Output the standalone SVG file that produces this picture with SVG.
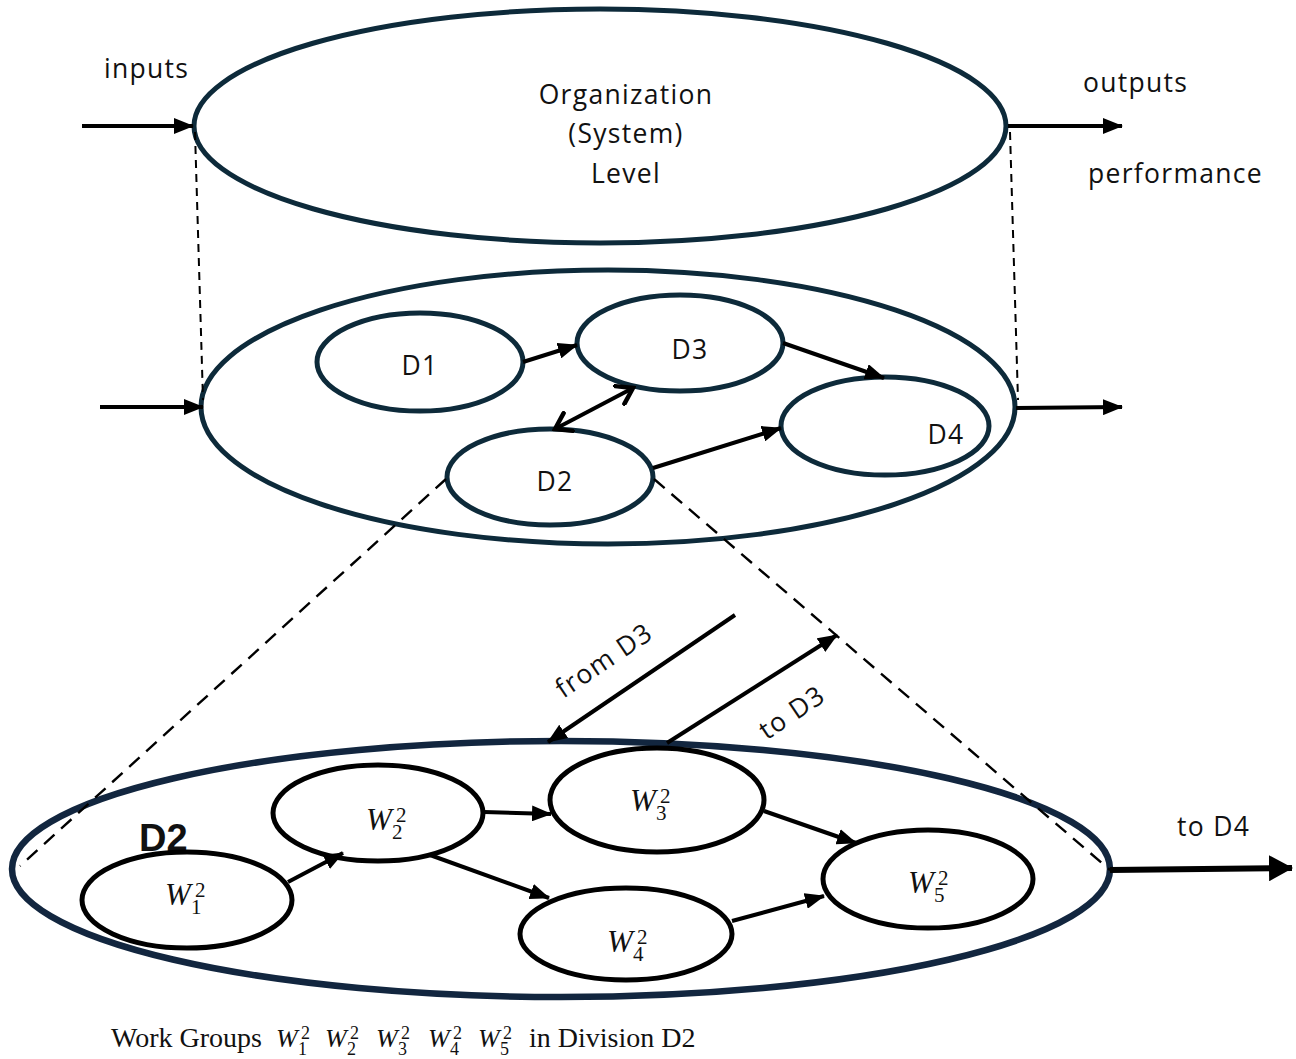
<svg xmlns="http://www.w3.org/2000/svg" width="1296" height="1059" viewBox="0 0 1296 1059">
<style>
.big{fill:#fff;stroke:#0d2a3a;stroke-width:5}
.dn{fill:#fff;stroke:#0d2a3a;stroke-width:5}
.wn{fill:#fff;stroke:#000;stroke-width:5}
.bot{fill:none;stroke:#12263f;stroke-width:6.5}
.lbl{font-family:"Open Sans","Liberation Sans",sans-serif;font-size:26.5px;letter-spacing:1.3px;fill:#111}
.ar{stroke:#000;stroke-width:4;fill:none}
.dash{stroke:#000;stroke-width:2;fill:none;stroke-dasharray:8 6}
.dash2{stroke:#000;stroke-width:2.4;fill:none;stroke-dasharray:14 9}
.w{font-family:"Liberation Serif",serif;font-style:italic;font-size:31px;fill:#111}
.s{font-style:normal;font-size:21px}
.cap{font-family:"Liberation Serif",serif;font-size:28px;fill:#111}
.cw{font-style:italic;font-size:26px}
.cs{font-size:18px}
</style>
<defs>
<marker id="ah" markerUnits="userSpaceOnUse" viewBox="0 0 20 16" markerWidth="20" markerHeight="16" refX="19" refY="8" orient="auto"><path d="M0,0 L20,8 L0,16 z" fill="#000"/></marker>
<marker id="ahs" markerUnits="userSpaceOnUse" viewBox="0 0 20 16" markerWidth="20" markerHeight="16" refX="19" refY="8" orient="auto"><path d="M0,0 L20,8 L0,16 z" fill="#000"/></marker>
<marker id="ahb" markerUnits="userSpaceOnUse" viewBox="0 0 24 26" markerWidth="24" markerHeight="26" refX="23" refY="13" orient="auto"><path d="M0,0 L24,13 L0,26 z" fill="#000"/></marker>
<marker id="open" markerUnits="userSpaceOnUse" viewBox="0 0 20 24" markerWidth="20" markerHeight="24" refX="17" refY="12" orient="auto-start-reverse"><path d="M2,2 L17,12 L2,22" fill="none" stroke="#000" stroke-width="4.5" stroke-linecap="round"/></marker>
</defs>

<g id="org">
<ellipse class="big" cx="600" cy="126" rx="406" ry="117"/>
<text class="lbl" text-anchor="middle" x="626" y="104">Organization</text>
<text class="lbl" text-anchor="middle" x="626" y="143">(System)</text>
<text class="lbl" text-anchor="middle" x="626" y="183">Level</text>
</g>
<g id="labels-top">
<text class="lbl" x="104" y="78">inputs</text>
<text class="lbl" x="1083" y="92">outputs</text>
<text class="lbl" x="1088" y="183">performance</text>
</g>

<g id="divisions">
<ellipse class="big" cx="608" cy="407" rx="407" ry="137"/>
</g>
<g id="D1"><ellipse class="dn" cx="420" cy="362" rx="103" ry="49"/><text class="lbl" text-anchor="middle" x="420" y="375">D1</text></g>
<g id="D3"><ellipse class="dn" cx="680" cy="343" rx="103" ry="48"/><text class="lbl" text-anchor="middle" x="690" y="359">D3</text></g>
<g id="D4"><ellipse class="dn" cx="885" cy="426" rx="104" ry="49"/><text class="lbl" text-anchor="middle" x="946" y="444">D4</text></g>
<g id="D2"><ellipse class="dn" cx="550" cy="477" rx="103" ry="48"/><text class="lbl" text-anchor="middle" x="555" y="491">D2</text></g>

<g id="D2-detail">
<ellipse class="bot" cx="561" cy="869" rx="549" ry="128"/>
<text x="139" y="851" font-family="Liberation Sans,Arial,sans-serif" font-weight="bold" font-size="38" fill="#111">D2</text>
</g>

<g id="W1"><ellipse class="wn" cx="187" cy="900" rx="105" ry="48"/><text class="w" x="165" y="905">W<tspan class="s" x="195" y="897">2</tspan><tspan class="s" x="191" y="914">1</tspan></text></g>
<g id="W2"><ellipse class="wn" cx="378" cy="813" rx="105" ry="48"/><text class="w" x="366" y="830">W<tspan class="s" x="396" y="822">2</tspan><tspan class="s" x="392" y="839">2</tspan></text></g>
<g id="W3"><ellipse class="wn" cx="657" cy="800" rx="107" ry="52"/><text class="w" x="630" y="811">W<tspan class="s" x="660" y="803">2</tspan><tspan class="s" x="656" y="820">3</tspan></text></g>
<g id="W4"><ellipse class="wn" cx="626" cy="934" rx="106" ry="46"/><text class="w" x="607" y="952">W<tspan class="s" x="637" y="944">2</tspan><tspan class="s" x="633" y="961">4</tspan></text></g>
<g id="W5"><ellipse class="wn" cx="928" cy="879" rx="105" ry="49"/><text class="w" x="908" y="893">W<tspan class="s" x="938" y="885">2</tspan><tspan class="s" x="934" y="902">5</tspan></text></g>

<g id="connectors">
<line class="ar" x1="82" y1="126" x2="193" y2="126" marker-end="url(#ah)"/>
<line class="ar" x1="1008" y1="126" x2="1122" y2="126" marker-end="url(#ah)"/>
<line class="ar" x1="100" y1="407" x2="203" y2="407" marker-end="url(#ah)"/>
<line class="ar" x1="1016" y1="408" x2="1122" y2="407" marker-end="url(#ah)"/>
<line class="dash" x1="195" y1="132" x2="203" y2="400"/>
<line class="dash" x1="1010" y1="132" x2="1018" y2="400"/>
<line class="dash2" x1="446" y1="479" x2="20" y2="866"/>
<line class="dash2" x1="654" y1="479" x2="1110" y2="870"/>
<line class="ar" x1="523" y1="362" x2="577" y2="345" marker-end="url(#ahs)"/>
<line class="ar" x1="783" y1="343" x2="884" y2="378" marker-end="url(#ahs)"/>
<line class="ar" x1="555" y1="429" x2="633" y2="388" marker-start="url(#open)" marker-end="url(#open)"/>
<line class="ar" x1="653" y1="468" x2="781" y2="428" marker-end="url(#ahs)"/>
<line class="ar" x1="288" y1="882" x2="343" y2="853" marker-end="url(#ahs)"/>
<line class="ar" x1="484" y1="812" x2="551" y2="814" marker-end="url(#ahs)"/>
<line class="ar" x1="430" y1="855" x2="549" y2="898" marker-end="url(#ahs)"/>
<line class="ar" x1="764" y1="811" x2="856" y2="843" marker-end="url(#ahs)"/>
<line class="ar" x1="732" y1="921" x2="824" y2="896" marker-end="url(#ahs)"/>
<line class="ar" x1="735" y1="615" x2="548" y2="742" marker-end="url(#ahs)"/>
<line class="ar" x1="667" y1="743" x2="837" y2="635" marker-end="url(#ahs)"/>
<line x1="1110" y1="870" x2="1292" y2="868" stroke="#000" stroke-width="6" marker-end="url(#ahb)"/>
</g>

<g id="arrow-labels">
<text class="lbl" text-anchor="middle" transform="translate(609,668) rotate(-34)">from D3</text>
<text class="lbl" text-anchor="middle" transform="translate(797,720) rotate(-34)">to D3</text>
<text class="lbl" x="1177" y="836">to D4</text>
</g>

<g id="caption">
<text class="cap" x="111" y="1047">Work Groups<tspan class="cw" x="276" y="1047">W</tspan><tspan class="cs" x="301" y="1039">2</tspan><tspan class="cs" x="298" y="1055">1</tspan><tspan class="cw" x="325" y="1047">W</tspan><tspan class="cs" x="350" y="1039">2</tspan><tspan class="cs" x="347" y="1055">2</tspan><tspan class="cw" x="376" y="1047">W</tspan><tspan class="cs" x="401" y="1039">2</tspan><tspan class="cs" x="398" y="1055">3</tspan><tspan class="cw" x="428" y="1047">W</tspan><tspan class="cs" x="453" y="1039">2</tspan><tspan class="cs" x="450" y="1055">4</tspan><tspan class="cw" x="478" y="1047">W</tspan><tspan class="cs" x="503" y="1039">2</tspan><tspan class="cs" x="500" y="1055">5</tspan><tspan x="529" y="1047">in Division D2</tspan></text>
</g>
</svg>
